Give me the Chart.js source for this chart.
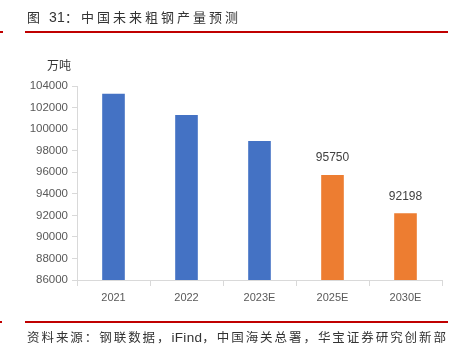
<!DOCTYPE html>
<html>
<head>
<meta charset="utf-8">
<script src="https://cdn.jsdelivr.net/npm/chart.js@4.4.1/dist/chart.umd.min.js"></script>
<style>
  html, body { margin: 0; padding: 0; background: #fff; }
  #wrap { position: relative; width: 457px; height: 362px; overflow: hidden; font-family: "Noto Sans CJK SC", "Liberation Sans", sans-serif; }
  #chart { position: absolute; left: 0; top: 0; }
  .title { position: absolute; left: 27px; top: 9px; font-size: 13px; line-height: 16px; letter-spacing: 3px; color: #333; white-space: nowrap; }
  .source { position: absolute; left: 27px; top: 329px; font-size: 12.5px; line-height: 16px; letter-spacing: 1.95px; color: #333; white-space: nowrap; }
  .lat { font-family: "Liberation Sans", Arial, sans-serif; letter-spacing: 0.3px; }
  .unit { position: absolute; left: 47px; top: 57px; font-size: 12px; line-height: 16px; color: #333; }
  .rule { position: absolute; height: 2px; background: #c00000; }
</style>
</head>
<body>
<div id="wrap">
  <canvas id="chart" width="457" height="362"></canvas>
  <div class="title">图 <span class="lat" style="font-size:14px">31</span>：中国未来粗钢产量预测</div>
  <div class="rule" style="left:0;top:31px;width:3px"></div>
  <div class="rule" style="left:25px;top:31px;width:423px"></div>
  <div class="unit">万吨</div>
  <div class="rule" style="left:0;top:321px;width:2px"></div>
  <div class="rule" style="left:25px;top:321px;width:423px"></div>
  <div class="source">资料来源：钢联数据，<span class="lat" style="font-size:13.5px">iFind</span>，中国海关总署，华宝证券研究创新部</div>
</div>
<script>
const years = ['2021', '2022', '2023E', '2025E', '2030E'];
const output = [103279, 101300, 98900, 95750, 92198];
const labeled = [false, false, false, true, true];
const yTicks = [86000, 88000, 90000, 92000, 94000, 96000, 98000, 100000, 102000, 104000];

const BLUE = '#4472c4';
const ORANGE = '#ed7d31';
const AXIS = '#d9d9d9';
const FONT = '"Liberation Sans", Arial, sans-serif';

// value labels above the projected bars
const valueLabels = {
  id: 'valueLabels',
  afterDatasetsDraw(chart) {
    const ctx = chart.ctx;
    const meta = chart.getDatasetMeta(0);
    ctx.save();
    ctx.font = '12px ' + FONT;
    ctx.fillStyle = '#404040';
    ctx.textAlign = 'center';
    ctx.textBaseline = 'middle';
    meta.data.forEach((bar, i) => {
      if (!labeled[i]) return;
      ctx.fillText(String(output[i]), bar.x, bar.y - 17);
    });
    ctx.restore();
  }
};

new Chart(document.getElementById('chart'), {
  type: 'bar',
  data: {
    labels: years,
    datasets: [{
      data: output,
      backgroundColor: labeled.map(l => l ? ORANGE : BLUE),
      categoryPercentage: 1,
      barPercentage: 0.31
    }]
  },
  options: {
    responsive: false,
    animation: false,
    layout: { padding: { top: 86, right: 15, bottom: 52, left: 0 } },
    plugins: { legend: { display: false }, tooltip: { enabled: false } },
    scales: {
      x: {
        afterFit(scale) { scale.height = 30; },
        grid: { offset: true, drawOnChartArea: false, tickLength: 6, color: AXIS },
        border: { color: AXIS },
        ticks: { color: '#595959', padding: 5, font: { family: FONT, size: 11 } }
      },
      y: {
        min: 86000,
        max: 104000,
        afterFit(scale) { scale.width = 77; },
        afterBuildTicks(scale) { scale.ticks = yTicks.map(v => ({ value: v })); },
        grid: { drawOnChartArea: false, tickLength: 5, color: AXIS },
        border: { color: AXIS },
        ticks: {
          color: '#595959',
          padding: 4,
          font: { family: FONT, size: 11.5 },
          callback: value => String(value)
        }
      }
    }
  },
  plugins: [valueLabels]
});
</script>
</body>
</html>
